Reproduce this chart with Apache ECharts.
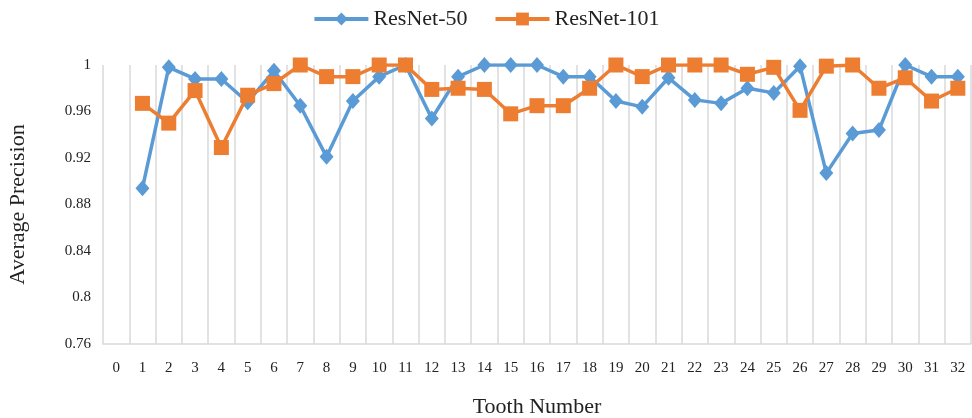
<!DOCTYPE html>
<html>
<head>
<meta charset="utf-8">
<script src="https://cdn.jsdelivr.net/npm/echarts@6/dist/echarts.min.js"></script>
<style>
html,body{margin:0;padding:0;background:#fff;}
#chart{width:972px;height:418px;}
</style>
</head>
<body>
<div id="chart"></div>
<script>
const categories = ['0','1','2','3','4','5','6','7','8','9','10','11','12','13','14','15','16','17','18','19','20','21','22','23','24','25','26','27','28','29','30','31','32'];
const resnet50 = [null,0.894,0.998,0.988,0.988,0.968,0.995,0.965,0.921,0.969,0.990,1.0,0.954,0.990,1.0,1.0,1.0,0.990,0.990,0.969,0.964,0.989,0.970,0.967,0.980,0.976,0.999,0.907,0.941,0.944,1.0,0.990,0.990];
const resnet101 = [null,0.967,0.950,0.978,0.929,0.974,0.984,1.0,0.990,0.990,1.0,1.0,0.979,0.980,0.979,0.958,0.965,0.965,0.980,1.0,0.990,1.0,1.0,1.0,0.992,0.998,0.961,0.999,1.0,0.980,0.989,0.969,0.980];
const seriesNames = ['ResNet-50','ResNet-101'];

const chart = echarts.init(document.getElementById('chart'), null, {renderer:'canvas'});
const font = 'Liberation Serif';
chart.setOption({
  animation:false,
  backgroundColor:'#fff',
  legend:{
    top:3,
    left:'center',
    itemWidth:54,
    itemHeight:16,
    itemGap:26,
    lineStyle:{width:4},
    textStyle:{fontFamily:font,fontSize:22,color:'#222'},
    data:seriesNames
  },
  grid:{left:103,right:1,top:65,bottom:74,containLabel:false,outerBoundsMode:'none'},
  xAxis:{
    type:'category',
    data:categories,
    boundaryGap:true,
    name:'Tooth Number',
    nameLocation:'middle',
    nameGap:52,
    nameTextStyle:{fontFamily:font,fontSize:22,color:'#222'},
    axisLine:{lineStyle:{color:'#d9d9d9',width:1.5}},
    axisTick:{show:false},
    axisLabel:{interval:0,margin:17,fontFamily:font,fontSize:15,color:'#222'},
    splitLine:{show:true,interval:0,lineStyle:{color:'#d9d9d9',width:1.5}}
  },
  yAxis:{
    type:'value',
    min:0.76,
    max:1,
    interval:0.04,
    name:'Average Precision',
    nameLocation:'middle',
    nameGap:74,
    nameTextStyle:{fontFamily:font,fontSize:22,color:'#222'},
    axisLine:{show:false},
    axisTick:{show:false},
    splitLine:{show:false},
    axisLabel:{margin:12,fontFamily:font,fontSize:15,color:'#222'}
  },
  series:[
    {
      name:seriesNames[0],
      type:'line',
      data:resnet50,
      symbol:'diamond',
      symbolSize:[14,16],
      showAllSymbol:true,
      lineStyle:{color:'#5B9BD5',width:3.5},
      itemStyle:{color:'#5B9BD5'},
      z:2
    },
    {
      name:seriesNames[1],
      type:'line',
      data:resnet101,
      symbol:'rect',
      symbolSize:15,
      showAllSymbol:true,
      lineStyle:{color:'#ED7D31',width:3.5},
      itemStyle:{color:'#ED7D31'},
      z:3
    }
  ]
});
</script>
</body>
</html>
